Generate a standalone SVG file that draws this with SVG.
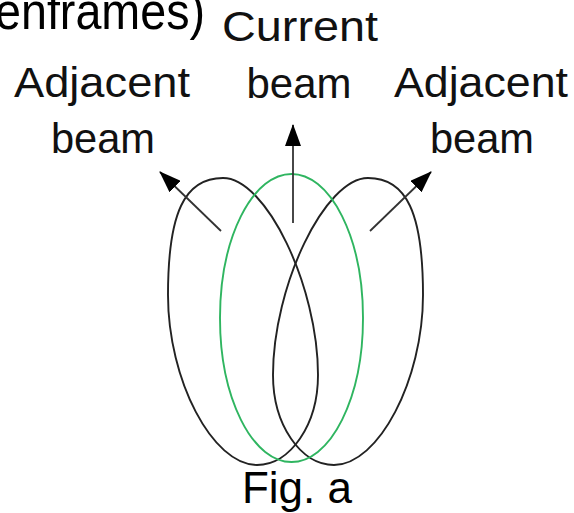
<svg xmlns="http://www.w3.org/2000/svg" width="574" height="513" viewBox="0 0 574 513">
  <style>
    .lbl { font-family: "Liberation Sans", Arial, sans-serif; font-size: 42px; fill: #111; text-anchor: middle; }
    .lobe { fill: none; stroke: #222; stroke-width: 1.9; }
    .cur { fill: none; stroke: #2fb560; stroke-width: 1.9; }
    .arr { stroke: #333; stroke-width: 1.8; fill: none; marker-end: url(#ah); }
  </style>
  <defs>
    <marker id="ah" viewBox="0 0 22 16" refX="21" refY="8" markerWidth="22" markerHeight="16" markerUnits="userSpaceOnUse" orient="auto">
      <path d="M0,0 L22,8 L0,16 z" fill="#000"/>
    </marker>
  </defs>
  <rect width="574" height="513" fill="#fff"/>
  <g id="title-fragment">
    <text x="-5" y="29" font-family="Liberation Sans, Arial, sans-serif" font-size="52" textLength="210" lengthAdjust="spacingAndGlyphs" fill="#000">enframes)</text>
  </g>
  <g id="left-beam">
    <path class="lobe" d="M223 178 C266 178 318 286 318 375 C318 424.5 290.5 465 257 465 C212.5 465 168 380 168 295 C168 213 184.5 178 223 178 Z"/>
    <text class="lbl" x="102" y="97" textLength="176" lengthAdjust="spacingAndGlyphs">Adjacent</text>
    <text class="lbl" x="103" y="153" textLength="104" lengthAdjust="spacingAndGlyphs">beam</text>
  </g>
  <g id="right-beam">
    <path class="lobe" d="M368 178 C325 178 273 286 273 375 C273 424.5 300.5 465 334 465 C378.5 465 423 380 423 295 C423 213 406.5 178 368 178 Z"/>
    <text class="lbl" x="481" y="97" textLength="174" lengthAdjust="spacingAndGlyphs">Adjacent</text>
    <text class="lbl" x="482" y="153" textLength="104" lengthAdjust="spacingAndGlyphs">beam</text>
  </g>
  <g id="current-beam">
    <ellipse class="cur" cx="291.5" cy="318" rx="71.5" ry="144"/>
    <text class="lbl" x="300" y="41" textLength="156" lengthAdjust="spacingAndGlyphs">Current</text>
    <text class="lbl" x="299" y="98" textLength="105" lengthAdjust="spacingAndGlyphs">beam</text>
  </g>
  <g id="connectors">
    <line class="arr" x1="221" y1="231" x2="160" y2="172"/>
    <line class="arr" x1="293" y1="223" x2="293" y2="125"/>
    <line class="arr" x1="370" y1="231" x2="431" y2="172"/>
  </g>
  <g id="caption">
    <text x="297" y="503" font-family="Liberation Sans, Arial, sans-serif" font-size="44" text-anchor="middle" fill="#000">Fig. a</text>
  </g>
</svg>
